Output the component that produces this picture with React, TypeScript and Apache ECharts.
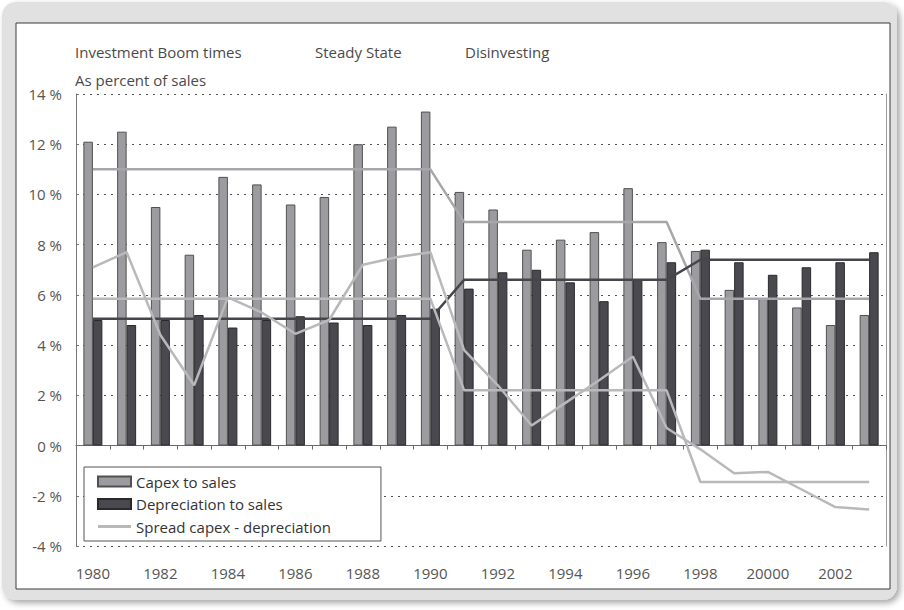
import React, { useEffect, useRef } from "react";
import * as echarts from "echarts";

const years = [
  "1980", "1981", "1982", "1983", "1984", "1985", "1986", "1987", "1988", "1989", "1990", "1991",
  "1992", "1993", "1994", "1995", "1996", "1997", "1998", "1999", "2000", "2001", "2002", "2003",
];
const tickLabels = ["1980", "1982", "1984", "1986", "1988", "1990", "1992", "1994", "1996", "1998", "20000", "2002"];
const yTicks = [-4, -2, 0, 2, 4, 6, 8, 10, 12, 14];

const capexToSales = [12.1, 12.5, 9.5, 7.6, 10.7, 10.4, 9.6, 9.9, 12.0, 12.7, 13.3, 10.1, 9.4, 7.8, 8.2, 8.5, 10.25, 8.1, 7.75, 6.2, 5.85, 5.5, 4.8, 5.2];
const depreciationToSales = [5.0, 4.8, 5.0, 5.2, 4.7, 5.0, 5.15, 4.9, 4.8, 5.2, 5.45, 6.25, 6.9, 7.0, 6.5, 5.75, 6.6, 7.3, 7.8, 7.3, 6.8, 7.1, 7.3, 7.7];
const spread = [7.1, 7.7, 4.4, 2.4, 5.9, 5.3, 4.45, 5.0, 7.2, 7.5, 7.7, 3.8, 2.4, 0.8, 1.7, 2.6, 3.55, 0.7, -0.15, -1.1, -1.05, -1.75, -2.45, -2.55];
const capexPhaseAvg = [11, 11, 11, 11, 11, 11, 11, 11, 11, 11, 11, 8.9, 8.9, 8.9, 8.9, 8.9, 8.9, 8.9, 5.85, 5.85, 5.85, 5.85, 5.85, 5.85];
const depreciationPhaseAvg = [5.05, 5.05, 5.05, 5.05, 5.05, 5.05, 5.05, 5.05, 5.05, 5.05, 5.05, 6.6, 6.6, 6.6, 6.6, 6.6, 6.6, 6.6, 7.4, 7.4, 7.4, 7.4, 7.4, 7.4];
const spreadPhaseAvg = [5.85, 5.85, 5.85, 5.85, 5.85, 5.85, 5.85, 5.85, 5.85, 5.85, 5.85, 2.2, 2.2, 2.2, 2.2, 2.2, 2.2, 2.2, -1.45, -1.45, -1.45, -1.45, -1.45, -1.45];

const phaseTitles = ["Investment Boom times", "Steady State", "Disinvesting"];
const unitTitle = "As percent of sales";
const seriesNames = ["Capex to sales", "Depreciation to sales", "Spread capex - depreciation"];

const FONT = "'Open Sans', 'DejaVu Sans', sans-serif";
const TEXT = "#4a4a4a";

export default function App() {
  const ref = useRef<HTMLDivElement>(null);
  useEffect(() => {
    if (!ref.current) return;
    const chart = echarts.init(ref.current, null, { renderer: "svg" });
    const option: any = {
      animation: false,
      backgroundColor: "#ffffff",
      textStyle: { fontFamily: FONT },
      graphic: [
        {
          type: "rect",
          z: -20,
          silent: true,
          shape: { x: 2, y: 2, width: 895, height: 598, r: 14 },
          style: { fill: "#e1e1e1", shadowBlur: 6, shadowOffsetX: 3, shadowOffsetY: 3, shadowColor: "rgba(0,0,0,0.35)" },
        },
        {
          type: "rect",
          z: -19,
          silent: true,
          shape: { x: 16, y: 23, width: 874, height: 566 },
          style: { fill: "#ffffff", stroke: "#3a3a3a", lineWidth: 1 },
        },
        { type: "text", x: 75, y: 52, style: { text: phaseTitles[0], font: `15px ${FONT}`, fill: TEXT, textVerticalAlign: "middle" } },
        { type: "text", x: 315, y: 52, style: { text: phaseTitles[1], font: `15px ${FONT}`, fill: TEXT, textVerticalAlign: "middle" } },
        { type: "text", x: 465, y: 52, style: { text: phaseTitles[2], font: `15px ${FONT}`, fill: TEXT, textVerticalAlign: "middle" } },
        { type: "text", x: 75, y: 80, style: { text: unitTitle, font: `15px ${FONT}`, fill: TEXT, textVerticalAlign: "middle" } },
      ],
      grid: { left: 76, top: 94, right: 18, bottom: 64, show: false },
      legend: {
        data: [
          { name: seriesNames[0], icon: "rect" },
          { name: seriesNames[1], icon: "rect" },
          { name: seriesNames[2], icon: "path://M0,0L33,0L33,3L0,3Z" },
        ],
        orient: "vertical",
        left: 84,
        top: 467,
        padding: [7, 50, 7, 13],
        itemGap: 7.5,
        itemWidth: 33,
        itemHeight: 10,
        symbolKeepAspect: true,
        backgroundColor: "#ffffff",
        borderColor: "#555555",
        borderWidth: 1,
        borderRadius: 0,
        textStyle: { color: "#333333", fontSize: 15, fontFamily: FONT },
      },
      xAxis: [
        {
          type: "category",
          data: years,
          axisLine: { onZero: true, lineStyle: { color: "#6a6a6a", width: 1 } },
          axisTick: { show: true, interval: 0, length: 4, lineStyle: { color: "#6a6a6a" } },
          axisLabel: { show: false },
          splitLine: { show: false },
        },
        {
          type: "category",
          data: years,
          position: "bottom",
          axisLine: { show: false, onZero: false },
          axisTick: { show: false },
          axisLabel: {
            interval: 0,
            margin: 19,
            color: "#555555",
            fontSize: 15,
            fontFamily: FONT,
            formatter: (_v: string, i: number) => (i % 2 === 0 ? tickLabels[i / 2] : ""),
          },
        },
      ],
      yAxis: [
        {
          type: "value",
          min: yTicks[0],
          max: yTicks[yTicks.length - 1],
          interval: 2,
          axisLine: { show: true, lineStyle: { color: "#777777", width: 1 } },
          axisTick: { show: true, inside: true, length: 3, lineStyle: { color: "#777777" } },
          axisLabel: { margin: 14, color: "#555555", fontSize: 15, fontFamily: FONT, formatter: (v: number) => `${v} %` },
          splitLine: { show: true, lineStyle: { color: "#555555", type: [2, 5], width: 1.2 } },
        },
        {
          type: "value",
          position: "right",
          min: yTicks[0],
          max: yTicks[yTicks.length - 1],
          interval: 2,
          axisLine: { show: true, lineStyle: { color: "#999999", width: 1 } },
          axisTick: { show: false },
          axisLabel: { show: false },
          splitLine: { show: false },
        },
      ],
      series: [
        {
          name: seriesNames[0],
          type: "bar",
          data: capexToSales,
          barWidth: 9.5,
          barGap: "0%",
          itemStyle: { color: "#9c9ca0", borderColor: "#505050", borderWidth: 1 },
          z: 2,
        },
        {
          name: seriesNames[1],
          type: "bar",
          data: depreciationToSales,
          barWidth: 9.5,
          barGap: "0%",
          itemStyle: { color: "#4a4950", borderColor: "#2a2a2a", borderWidth: 1 },
          z: 2,
        },
        {
          name: "Capex phase average",
          type: "line",
          data: capexPhaseAvg,
          symbol: "none",
          lineStyle: { color: "#a7a7ab", width: 2.5 },
          itemStyle: { color: "#a7a7ab" },
          z: 3,
        },
        {
          name: "Depreciation phase average",
          type: "line",
          data: depreciationPhaseAvg,
          symbol: "none",
          lineStyle: { color: "#46454b", width: 2.5 },
          itemStyle: { color: "#46454b" },
          z: 3,
        },
        {
          name: "Spread phase average",
          type: "line",
          data: spreadPhaseAvg,
          symbol: "none",
          lineStyle: { color: "#b9b9bc", width: 2.5 },
          itemStyle: { color: "#b9b9bc" },
          z: 3,
        },
        {
          name: seriesNames[2],
          type: "line",
          data: spread,
          symbol: "none",
          lineStyle: { color: "#b9b9bc", width: 2.5 },
          itemStyle: { color: "#b9b9bc" },
          z: 4,
        },
      ],
    };
    chart.setOption(option);
    return () => chart.dispose();
  }, []);
  return <div ref={ref} style={{ position: "fixed", left: 0, top: 0, width: 904, height: 610 }} />;
}
